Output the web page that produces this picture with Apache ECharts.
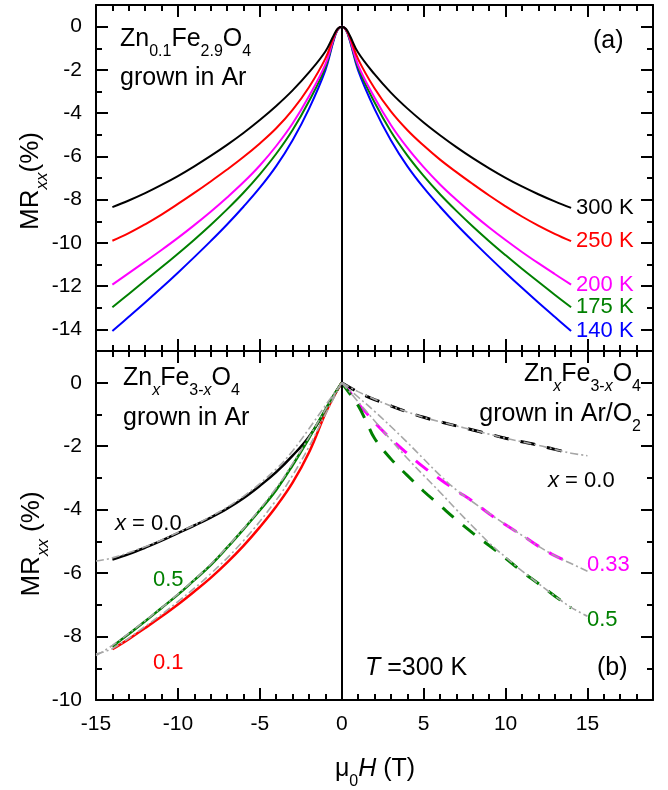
<!DOCTYPE html>
<html>
<head>
<meta charset="utf-8">
<title>MRxx vs field</title>
<script src="https://cdn.jsdelivr.net/npm/echarts@6.0.0/dist/echarts.min.js"></script>
<style>
  html, body { margin: 0; padding: 0; background: #fff; }
  #chart { width: 668px; height: 790px; }
</style>
</head>
<body>
<div id="chart"></div>
<script>
// ---------- panel (a): Zn0.1Fe2.9O4 grown in Ar ----------
var fieldTop = [-14, -13, -12, -11, -10, -9, -8, -7, -6, -5, -4, -3, -2, -1, -0.5, -0.25, 0,
                0.25, 0.5, 1, 2, 3, 4, 5, 6, 7, 8, 9, 10, 11, 12, 13, 14];
var mr300 = [-8.35, -8.04, -7.7, -7.32, -6.91, -6.46, -5.98, -5.47, -4.92, -4.32, -3.67, -2.95, -2.12, -1.15, -0.42, -0.1, 0,
             -0.1, -0.42, -1.2, -2.2, -3.05, -3.78, -4.43, -5.02, -5.57, -6.08, -6.55, -6.99, -7.39, -7.75, -8.08, -8.38];
var mr250 = [-9.9, -9.55, -9.14, -8.69, -8.2, -7.69, -7.16, -6.61, -6.03, -5.4, -4.7, -3.85, -2.8, -1.48, -0.5, -0.12, 0,
             -0.12, -0.5, -1.5, -2.85, -3.92, -4.78, -5.5, -6.15, -6.73, -7.28, -7.81, -8.31, -8.78, -9.2, -9.58, -9.92];
var mr200 = [-11.93, -11.4, -10.87, -10.33, -9.77, -9.18, -8.56, -7.9, -7.2, -6.42, -5.52, -4.48, -3.22, -1.75, -0.58, -0.13, 0,
             -0.13, -0.58, -1.78, -3.28, -4.55, -5.6, -6.5, -7.3, -8.01, -8.67, -9.29, -9.87, -10.42, -10.94, -11.44, -11.93];
var mr175 = [-12.98, -12.36, -11.74, -11.13, -10.5, -9.85, -9.17, -8.45, -7.68, -6.83, -5.88, -4.78, -3.45, -1.88, -0.62, -0.14, 0,
             -0.14, -0.62, -1.9, -3.5, -4.85, -5.95, -6.9, -7.75, -8.52, -9.24, -9.92, -10.57, -11.2, -11.8, -12.4, -12.98];
var mr140 = [-14.07, -13.42, -12.76, -12.08, -11.38, -10.66, -9.92, -9.15, -8.33, -7.45, -6.45, -5.25, -3.8, -2.02, -0.66, -0.15, 0,
             -0.15, -0.66, -2.02, -3.8, -5.25, -6.45, -7.45, -8.33, -9.15, -9.92, -10.66, -11.38, -12.08, -12.76, -13.42, -14.07];
var tempLabels = ['300 K', '250 K', '200 K', '175 K', '140 K'];

// ---------- panel (b), left: ZnxFe3-xO4 grown in Ar ----------
var fieldAr = [-14, -13, -12, -11, -10, -9, -8, -7, -6, -5, -4, -3, -2, -1, -0.5, 0];
var arX00 = [-5.57, -5.4, -5.2, -4.98, -4.74, -4.5, -4.25, -3.97, -3.64, -3.25, -2.82, -2.3, -1.7, -0.88, -0.42, 0];
var arX05 = [-8.31, -7.92, -7.52, -7.1, -6.68, -6.22, -5.75, -5.2, -4.62, -4.02, -3.38, -2.6, -1.75, -0.85, -0.4, 0];
var arX01 = [-8.4, -8.08, -7.73, -7.37, -6.99, -6.58, -6.15, -5.67, -5.14, -4.55, -3.9, -3.15, -2.2, -0.97, -0.45, 0];
var fieldArFit = [-15, -14, -12, -10, -8, -6, -4, -3, -2, -1, 0];
var fitAr00 = [-5.62, -5.52, -5.17, -4.72, -4.22, -3.58, -2.72, -2.15, -1.45, -0.72, 0];
var fitAr05 = [-8.6, -8.28, -7.5, -6.66, -5.72, -4.6, -3.32, -2.55, -1.72, -0.85, 0];
var fitAr01 = [-8.55, -8.38, -7.68, -6.9, -6.02, -4.98, -3.7, -2.92, -2.02, -1.0, 0];

// ---------- panel (b), right: ZnxFe3-xO4 grown in Ar/O2 ----------
var fieldO2 = [0, 0.5, 1, 1.5, 2, 3, 4, 5, 6, 7, 8, 9, 10, 11, 12, 13, 14];
var o2X00 = [0, -0.15, -0.3, -0.42, -0.53, -0.73, -0.92, -1.09, -1.23, -1.36, -1.49, -1.62, -1.75, -1.86, -1.97, -2.1, -2.22];
var o2X033 = [0, -0.3, -0.66, -0.95, -1.25, -1.77, -2.23, -2.66, -3.04, -3.4, -3.74, -4.13, -4.48, -4.8, -5.15, -5.45, -5.68];
var o2X05 = [0, -0.35, -0.72, -1.22, -1.75, -2.4, -2.92, -3.42, -3.87, -4.32, -4.74, -5.13, -5.53, -5.95, -6.33, -6.72, -7.1];
var fieldO2Fit = [0, 1, 2, 3, 4, 5, 6, 7, 8, 9, 10, 11, 12, 13, 14, 15];
var fitO2X00 = [0, -0.28, -0.52, -0.73, -0.92, -1.09, -1.23, -1.36, -1.49, -1.62, -1.75, -1.86, -1.97, -2.1, -2.22, -2.3];
var fitO2X033 = [0, -0.45, -0.9, -1.38, -1.88, -2.4, -2.92, -3.38, -3.76, -4.12, -4.47, -4.81, -5.15, -5.45, -5.7, -5.94];
var fitO2X05 = [0, -0.6, -1.2, -1.8, -2.38, -2.92, -3.45, -4.0, -4.53, -5.05, -5.5, -5.93, -6.33, -6.72, -7.08, -7.36];

// ---------- ticks ----------
var xTicks = [-15, -10, -5, 0, 5, 10, 15];
var yTicksTop = [0, -2, -4, -6, -8, -10, -12, -14];
var yTicksBottom = [0, -2, -4, -6, -8, -10];

var FONT = "'Liberation Sans', Arial, Helvetica, sans-serif";
var GREEN = '#008000';
var GRAY = '#a6a6a6';

var dom = document.getElementById('chart');
var myChart = echarts.init(dom, null, { renderer: 'canvas' });

function pairs(xs, ys) {
  return xs.map(function (x, i) { return [x, ys[i]]; });
}

// axes with long ticks + labels
function majorAxis(grid, pos, min, max, ticks, showLabels) {
  return {
    type: 'value', gridIndex: grid, position: pos, min: min, max: max,
    axisLine: { show: true, onZero: false, lineStyle: { color: '#000', width: 2 } },
    axisTick: { show: true, inside: true, length: 12, customValues: ticks, lineStyle: { color: '#000', width: 2 } },
    axisLabel: { show: showLabels, customValues: ticks, margin: 14, color: '#000', fontSize: 21, fontFamily: FONT },
    splitLine: { show: false }
  };
}
// overlay axes that only draw the short ticks
function minorAxis(grid, pos, min, max) {
  return {
    type: 'value', gridIndex: grid, position: pos, min: min, max: max, interval: 1,
    axisLine: { show: false, onZero: false },
    axisTick: { show: true, inside: true, length: 6, lineStyle: { color: '#000', width: 2 } },
    axisLabel: { show: false },
    splitLine: { show: false }
  };
}

function line(xs, ys, xi, color, width, type, z) {
  return {
    type: 'line', xAxisIndex: xi, yAxisIndex: xi,
    data: pairs(xs, ys), showSymbol: false, smooth: 0.4,
    lineStyle: { color: color, width: width, type: type }, z: z
  };
}

// text with sub-scripts: each segment is [text, kind], kind: '' normal, 'i' italic, 's' sub, 'si' italic sub
var measureCtx = document.createElement('canvas').getContext('2d');
function fontOf(size, italic) {
  return (italic ? 'italic ' : '') + size + 'px ' + FONT;
}
function label(x, cy, segs, color, size, align, rotation) {
  var sub = Math.round(size * 0.64);
  var parts = segs.map(function (seg) {
    var kind = seg[1] || '';
    var isSub = kind.indexOf('s') >= 0;
    var italic = kind.indexOf('i') >= 0;
    var fs = isSub ? sub : size;
    measureCtx.font = fontOf(fs, italic);
    return { text: seg[0], fs: fs, italic: italic, isSub: isSub, w: measureCtx.measureText(seg[0]).width };
  });
  var total = parts.reduce(function (a, p) { return a + p.w; }, 0);
  var pos = align === 'right' ? -total : (align === 'center' ? -total / 2 : 0);
  var children = parts.map(function (p) {
    var el = {
      type: 'text', x: pos, y: p.isSub ? Math.round(size * 0.46) : 0, silent: true,
      style: {
        text: p.text, fill: color, font: fontOf(p.fs, p.italic),
        align: 'left', verticalAlign: 'middle'
      }
    };
    pos += p.w;
    return el;
  });
  return { type: 'group', x: x, y: cy, rotation: rotation || 0, silent: true, z: 100, children: children };
}

var topColors = ['#000000', '#ff0000', '#ff00ff', GREEN, '#0000ff'];
var topData = [mr300, mr250, mr200, mr175, mr140];
var topSeries = [];
for (var i = topData.length - 1; i >= 0; i--) {
  var s = line(fieldTop, topData[i], 0, topColors[i], 2, 'solid', 10 - i);
  s.endLabel = { show: true, formatter: tempLabels[i], color: topColors[i], fontSize: 22, fontFamily: FONT, distance: 5 };
  topSeries.push(s);
}
topSeries[0].markLine = {
  silent: true, symbol: 'none', animation: false, label: { show: false },
  lineStyle: { color: '#000', width: 2, type: 'solid' }, data: [{ xAxis: 0 }]
};

var dashed = [15, 12];
var dashDot = [8, 3, 2, 3];
var bottomSeries = [
  line(fieldAr, arX00, 4, '#000000', 2.5, 'solid', 3),
  line(fieldAr, arX01, 4, '#ff0000', 2.5, 'solid', 3),
  line(fieldAr, arX05, 4, GREEN, 2.5, 'solid', 4),
  line(fieldO2, o2X00, 4, '#000000', 3, dashed, 3),
  line(fieldO2, o2X033, 4, '#ff00ff', 3, dashed, 3),
  line(fieldO2, o2X05, 4, GREEN, 3, dashed, 3),
  line(fieldArFit, fitAr00, 4, GRAY, 1.6, dashDot, 6),
  line(fieldArFit, fitAr01, 4, GRAY, 1.6, dashDot, 6),
  line(fieldArFit, fitAr05, 4, GRAY, 1.6, dashDot, 6),
  line(fieldO2Fit, fitO2X00, 4, GRAY, 1.6, dashDot, 6),
  line(fieldO2Fit, fitO2X033, 4, GRAY, 1.6, dashDot, 6),
  line(fieldO2Fit, fitO2X05, 4, GRAY, 1.6, dashDot, 6)
];
bottomSeries[0].markLine = {
  silent: true, symbol: 'none', animation: false, label: { show: false },
  lineStyle: { color: '#000', width: 2, type: 'solid' }, data: [{ xAxis: 0 }]
};

var option = {
  animation: false,
  backgroundColor: '#fff',
  grid: [
    { left: 96, right: 15, top: 5, height: 346 },
    { left: 96, right: 15, top: 351, height: 349 }
  ],
  xAxis: [
    majorAxis(0, 'bottom', -15, 19, xTicks, false),
    majorAxis(0, 'top', -15, 19, xTicks, false),
    minorAxis(0, 'bottom', -15, 19),
    minorAxis(0, 'top', -15, 19),
    majorAxis(1, 'bottom', -15, 19, xTicks, true),
    majorAxis(1, 'top', -15, 19, xTicks, false),
    minorAxis(1, 'bottom', -15, 19),
    minorAxis(1, 'top', -15, 19)
  ],
  yAxis: [
    majorAxis(0, 'left', -15, 1, yTicksTop, true),
    majorAxis(0, 'right', -15, 1, yTicksTop, false),
    minorAxis(0, 'left', -15, 1),
    minorAxis(0, 'right', -15, 1),
    majorAxis(1, 'left', -10, 1, yTicksBottom, true),
    majorAxis(1, 'right', -10, 1, yTicksBottom, false),
    minorAxis(1, 'left', -10, 1),
    minorAxis(1, 'right', -10, 1)
  ],
  series: topSeries.concat(bottomSeries),
  graphic: [
    // panel (a)
    label(120, 39.5, [['Zn'], ['0.1', 's'], ['Fe'], ['2.9', 's'], ['O'], ['4', 's']], '#000', 25),
    label(120, 78.5, [['grown in Ar']], '#000', 25),
    label(593, 41, [['(a)']], '#000', 25),
    // panel (b)
    label(123, 378.5, [['Zn'], ['x', 'si'], ['Fe'], ['3-', 's'], ['x', 'si'], ['O'], ['4', 's']], '#000', 25),
    label(123, 418.5, [['grown in Ar']], '#000', 25),
    label(641, 374.5, [['Zn'], ['x', 'si'], ['Fe'], ['3-', 's'], ['x', 'si'], ['O'], ['4', 's']], '#000', 25, 'right'),
    label(641, 414.5, [['grown in Ar/O'], ['2', 's']], '#000', 25, 'right'),
    label(115, 524, [['x', 'i'], [' = 0.0']], '#000', 22),
    label(153, 580, [['0.5']], GREEN, 22),
    label(153, 663, [['0.1']], '#ff0000', 22),
    label(548, 481, [['x', 'i'], [' = 0.0']], '#000', 22),
    label(587, 565, [['0.33']], '#ff00ff', 22),
    label(587, 620, [['0.5']], GREEN, 22),
    label(365, 668, [['T', 'i'], [' =300 K']], '#000', 25),
    label(597, 668, [['(b)']], '#000', 25),
    // axis titles
    label(375, 769.5, [['\u03bc'], ['0', 's'], ['H', 'i'], [' (T)']], '#000', 25, 'center'),
    label(30.5, 181, [['MR'], ['xx', 'si'], ['(%)']], '#000', 26, 'center', Math.PI / 2),
    label(31.5, 544, [['MR'], ['xx', 'si'], [' (%)']], '#000', 26, 'center', Math.PI / 2)
  ]
};

myChart.setOption(option);
window.addEventListener('resize', myChart.resize);
</script>
</body>
</html>
